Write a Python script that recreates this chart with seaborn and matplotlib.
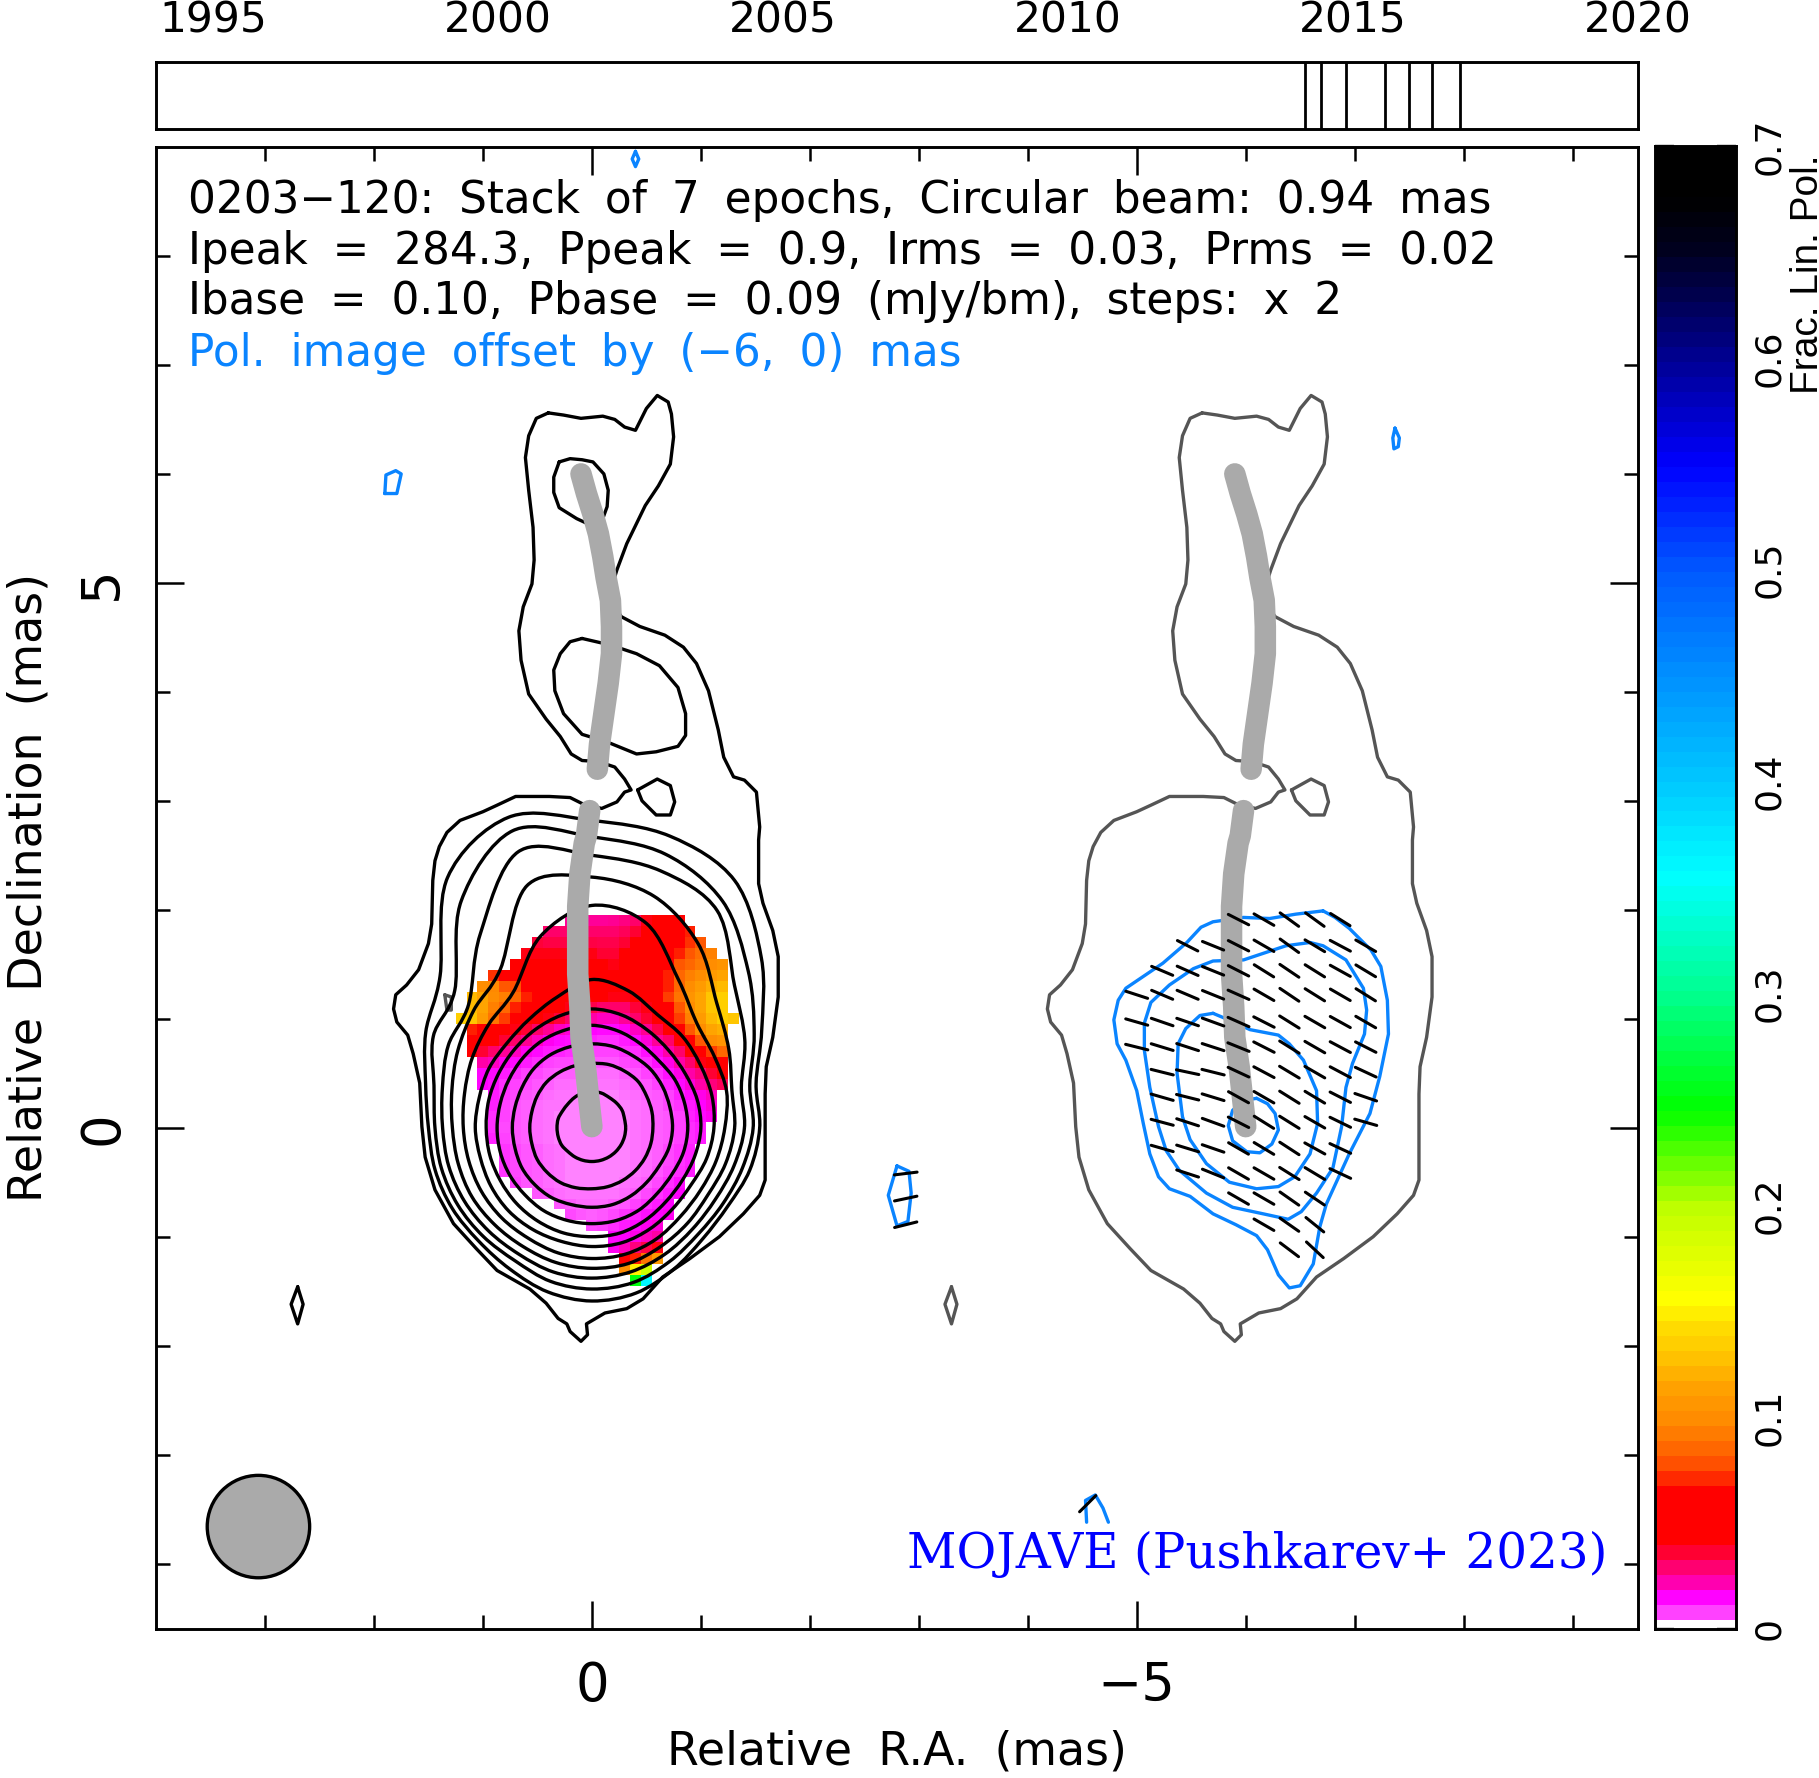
import numpy as np
import pandas as pd
import matplotlib
matplotlib.use('Agg')
import matplotlib.pyplot as plt
from matplotlib.colors import LinearSegmentedColormap
from matplotlib.patches import Circle, PathPatch
from matplotlib.path import Path
import seaborn as sns

W, H = 1819, 1778

# labels
TITLE_LINES = ['0203\u2212120: Stack of 7 epochs, Circular beam: 0.94 mas',
               'Ipeak = 284.3, Ppeak = 0.9, Irms = 0.03, Prms = 0.02',
               'Ibase = 0.10, Pbase = 0.09 (mJy/bm), steps: x 2',
               'Pol. image offset by (\u22126, 0) mas']
CREDIT = 'MOJAVE (Pushkarev+ 2023)'
YEAR_TICKS = [1995, 2000, 2005, 2010, 2015, 2020]
EPOCHS = [2014.16, 2014.44, 2014.88, 2015.56, 2015.98, 2016.39, 2016.88]
CBAR_TICKS = [0, 0.1, 0.2, 0.3, 0.4, 0.5, 0.6, 0.7]
POL_OFFSET = -6.0
BEAM_DIAMETER = 0.94
BEAM_CENTRE = (3.06, -3.66)

# outermost stokes I contour (mas)
OUTER_X = [0.40, 0.51, 0.58, 0.61, 0.58, 0.54, 0.53, 0.55, 0.63, 0.67, 0.65, 0.58, 0.42, 0.29, 0.19, 0.09, -0.06, -0.21, -0.30, -0.36,
           -0.30, -0.23, -0.09, 0.08, 0.20, 0.39, 0.70, 0.87, 1.00, 1.21, 1.33, 1.40, 1.44, 1.46, 1.47, 1.50, 1.59, 1.70, 1.80, 1.82,
           1.79, 1.69, 1.64, 1.58, 1.56, 1.53, 1.44, 1.27, 1.06, 0.87, 0.57, 0.42, 0.31, 0.23, 0.20, 0.10, 0.04, 0.05, -0.12, -0.32,
           -0.47, -0.65, -0.90, -1.17, -1.39, -1.54, -1.59, -1.59, -1.59, -1.60, -1.66, -1.71, -1.71, -1.66, -1.57, -1.53, -1.53, -1.54, -1.51,
           -1.40, -1.30, -1.21, -1.16, -1.07, -0.96, -0.84, -0.67, -0.44, -0.27, -0.21, -0.18, -0.23, -0.32, -0.49, -0.61, -0.72, -0.75, -0.73,
           -0.70, -0.60, -0.50, -0.40, -0.30, -0.21, -0.10, 0.10, 0.26, 0.40]
OUTER_Y = [6.56, 6.51, 6.35, 6.15, 5.85, 5.51, 5.21, 4.99, 4.78, 4.56, 4.29, 3.98, 3.75, 3.59, 3.43, 3.37, 3.36, 3.31, 3.20, 3.10,
           3.08, 2.99, 2.93, 2.97, 3.03, 3.04, 3.04, 2.96, 2.90, 2.82, 2.71, 2.58, 2.45, 2.27, 1.87, 1.69, 1.45, 1.31, 1.22, 1.09,
           0.97, 0.85, 0.68, 0.41, 0.01, -0.27, -0.57, -0.88, -1.11, -1.31, -1.48, -1.61, -1.75, -1.80, -1.87, -1.96, -1.90, -1.80, -1.70, -1.66,
           -1.57, -1.37, -1.20, -1.00, -0.79, -0.62, -0.48, -0.11, 0.31, 0.56, 0.83, 1.20, 1.57, 1.81, 2.06, 2.24, 2.64, 2.76, 3.08,
           3.19, 3.22, 3.40, 3.65, 4.01, 4.26, 4.41, 4.52, 4.60, 4.69, 4.78, 4.96, 5.12, 5.36, 5.71, 5.89, 6.09, 6.34, 6.55,
           6.66, 6.72, 6.60, 6.40, 6.43, 6.50, 6.53, 6.51, 6.54, 6.56]

# islands of the lowest contour
TOP_BLOB_X = [0.30, 0.20, 0.09, -0.01, -0.11, -0.15, -0.14, -0.10, -0.01, 0.14, 0.30, 0.35, 0.35, 0.30]
TOP_BLOB_Y = [6.11, 6.14, 6.13, 6.11, 6.00, 5.85, 5.70, 5.59, 5.52, 5.59, 5.69, 5.83, 5.97, 6.11]
MID_BLOB_X = [0.09, 0.20, 0.29, 0.35, 0.34, 0.26, 0.09, -0.14, -0.41, -0.59, -0.79, -0.86, -0.86, -0.79, -0.62, -0.41, -0.17, 0.09]
MID_BLOB_Y = [4.49, 4.46, 4.35, 4.20, 4.01, 3.80, 3.61, 3.54, 3.43, 3.45, 3.50, 3.60, 3.80, 4.04, 4.24, 4.35, 4.43, 4.49]
NECK_BLOB_X = [-0.42, -0.46, -0.59, -0.72, -0.76, -0.72, -0.60, -0.42]
NECK_BLOB_Y = [3.10, 3.00, 2.87, 2.87, 2.99, 3.14, 3.20, 3.10]
SIDE_BLOB_X = [2.70, 2.65, 2.70, 2.76, 2.70]
SIDE_BLOB_Y = [-1.46, -1.62, -1.80, -1.62, -1.46]
GREY_SPECK_X = [1.35, 1.29, 1.29, 1.33, 1.35]
GREY_SPECK_Y = [1.22, 1.20, 1.08, 1.08, 1.22]

# closed contours around the core: radius (mas) per azimuth, one row per level
AZIMUTHS = list(range(0, 360, 15))
LEVEL_RADII = [
    [1.54, 1.56, 1.80, 2.20, 2.62, 2.77, 2.82, 2.95, 2.65, 1.97, 1.76, 1.58, 1.50, 1.49, 1.48, 1.47, 1.50, 1.56, 1.59, 1.57, 1.50, 1.44, 1.44, 1.50],
    [1.48, 1.50, 1.72, 2.03, 2.40, 2.60, 2.67, 2.82, 2.40, 1.78, 1.68, 1.50, 1.44, 1.43, 1.42, 1.41, 1.41, 1.46, 1.48, 1.47, 1.42, 1.38, 1.39, 1.43],
    [1.40, 1.42, 1.62, 1.85, 2.30, 2.44, 2.50, 2.62, 2.05, 1.60, 1.52, 1.42, 1.37, 1.36, 1.35, 1.34, 1.34, 1.37, 1.38, 1.37, 1.34, 1.31, 1.31, 1.35],
    [1.31, 1.33, 1.45, 1.62, 1.95, 2.20, 2.30, 2.30, 1.68, 1.53, 1.42, 1.33, 1.28, 1.27, 1.27, 1.26, 1.26, 1.28, 1.29, 1.29, 1.26, 1.24, 1.23, 1.27],
    [1.22, 1.28, 1.30, 1.36, 1.58, 1.94, 2.04, 1.82, 1.44, 1.34, 1.27, 1.21, 1.18, 1.17, 1.17, 1.17, 1.17, 1.19, 1.20, 1.20, 1.18, 1.15, 1.15, 1.18],
    [1.12, 1.14, 1.15, 1.18, 1.20, 1.30, 1.36, 1.24, 1.15, 1.10, 1.09, 1.07, 1.07, 1.06, 1.07, 1.08, 1.08, 1.08, 1.09, 1.09, 1.07, 1.05, 1.05, 1.09],
    [1.00, 1.00, 0.99, 1.00, 1.03, 1.07, 1.09, 1.07, 1.04, 1.01, 0.99, 0.98, 0.97, 0.97, 0.97, 0.98, 0.99, 1.00, 1.00, 1.00, 0.98, 0.96, 0.96, 0.98],
    [0.88, 0.88, 0.88, 0.87, 0.89, 0.92, 0.94, 0.93, 0.92, 0.90, 0.88, 0.87, 0.87, 0.87, 0.87, 0.87, 0.88, 0.88, 0.88, 0.88, 0.87, 0.85, 0.85, 0.87],
    [0.74, 0.74, 0.75, 0.76, 0.76, 0.77, 0.77, 0.77, 0.77, 0.76, 0.74, 0.73, 0.73, 0.73, 0.74, 0.74, 0.74, 0.73, 0.73, 0.73, 0.72, 0.71, 0.71, 0.73],
    [0.56, 0.57, 0.58, 0.60, 0.60, 0.60, 0.59, 0.59, 0.59, 0.59, 0.58, 0.57, 0.57, 0.57, 0.58, 0.58, 0.58, 0.57, 0.56, 0.56, 0.56, 0.56, 0.56, 0.56],
    [0.31, 0.31, 0.32, 0.32, 0.32, 0.33, 0.33, 0.33, 0.32, 0.31, 0.31, 0.32, 0.32, 0.32, 0.32, 0.31, 0.31, 0.31, 0.31, 0.31, 0.31, 0.31, 0.31, 0.31],
]

# jet ridge line (mas)
RIDGE_TOP_X = [0.10, 0.05, -0.01, -0.06, -0.10, -0.13, -0.17, -0.18, -0.18, -0.15, -0.11, -0.07, -0.05]
RIDGE_TOP_Y = [6.00, 5.82, 5.63, 5.45, 5.24, 5.05, 4.84, 4.60, 4.35, 4.08, 3.80, 3.52, 3.29]
RIDGE_LOW_X = [0.02, 0.05, 0.07, 0.11, 0.13, 0.13, 0.13, 0.11, 0.10, 0.06, 0.03, 0.00]
RIDGE_LOW_Y = [2.91, 2.68, 2.61, 2.33, 2.03, 1.72, 1.41, 1.11, 0.83, 0.56, 0.28, 0.01]

# polarization contours, drawn where the offset image sits (mas)
POL_OUTER_X = [-6.71, -6.46, -6.22, -5.98, -5.70, -5.59, -5.46, -5.24, -4.90, -4.83, -4.79, -4.82, -4.90, -5.00, -5.06, -5.12, -5.20, -5.30, -5.49, -5.70,
               -5.91, -6.10, -6.20, -6.30, -6.40, -6.50, -6.62, -6.68, -6.74, -6.95, -7.14, -7.23, -7.31, -7.30, -7.24, -7.15, -6.95, -6.82, -6.71]
POL_OUTER_Y = [1.99, 1.96, 1.92, 1.93, 1.89, 1.84, 1.70, 1.51, 1.28, 1.17, 0.99, 0.77, 0.62, 0.34, 0.04, -0.24, -0.45, -0.56, -0.63, -0.79,
               -0.89, -0.99, -1.12, -1.35, -1.47, -1.45, -1.25, -0.91, -0.70, -0.24, 0.13, 0.47, 0.86, 1.17, 1.48, 1.63, 1.83, 1.93, 1.99]
POL_SECOND_X = [-6.59, -6.37, -6.16, -5.98, -5.70, -5.52, -5.30, -5.13, -5.07, -5.07, -5.12, -5.20, -5.27, -5.39, -5.64, -5.88, -6.16, -6.39, -6.51, -6.65,
                -6.80, -6.88, -6.92, -6.98, -7.09, -7.11, -7.08, -6.92, -6.71, -6.59]
POL_SECOND_Y = [1.70, 1.67, 1.60, 1.54, 1.53, 1.46, 1.31, 1.15, 0.96, 0.71, 0.37, 0.01, -0.21, -0.39, -0.60, -0.73, -0.79, -0.84, -0.77, -0.60,
                -0.37, 0.01, 0.37, 0.59, 0.86, 1.08, 1.28, 1.54, 1.67, 1.70]
POL_THIRD_X = [-5.70, -5.58, -5.45, -5.38, -5.37, -5.42, -5.49, -5.64, -5.85, -6.10, -6.30, -6.45, -6.59, -6.66, -6.65, -6.53, -6.40, -6.30, -6.04, -5.82, -5.70]
POL_THIRD_Y = [1.05, 1.03, 0.91, 0.77, 0.50, 0.10, -0.11, -0.33, -0.50, -0.56, -0.54, -0.45, -0.24, 0.04, 0.34, 0.62, 0.77, 0.85, 0.90, 1.00, 1.05]
POL_CORE_X = [-6.10, -5.98, -5.88, -5.84, -5.88, -6.01, -6.13, -6.24, -6.30, -6.27, -6.20, -6.10]
POL_CORE_Y = [0.27, 0.25, 0.16, 0.02, -0.12, -0.22, -0.23, -0.15, -0.02, 0.13, 0.22, 0.27]
POL_A_X = [1.90, 1.79, 1.75, 1.80, 1.89, 1.90]
POL_A_Y = [5.82, 5.82, 6.00, 6.03, 5.99, 5.82]
POL_B_X = [-0.40, -0.43, -0.40, -0.37, -0.40]
POL_B_Y = [8.96, 8.89, 8.82, 8.89, 8.96]
POL_C_X = [-7.37, -7.41, -7.40, -7.36, -7.35, -7.37]
POL_C_Y = [6.42, 6.33, 6.25, 6.23, 6.33, 6.42]
POL_D_X = [-2.80, -2.91, -2.93, -2.90, -2.80, -2.72, -2.80]
POL_D_Y = [-0.35, -0.40, -0.60, -0.86, -0.90, -0.62, -0.35]
POL_E_X = [-4.54, -4.53, -4.62, -4.69, -4.74]
POL_E_Y = [-3.62, -3.42, -3.37, -3.49, -3.62]

# EVPA sticks: one row per declination, position angle in degrees
STICK_Y = [1.91, 1.67, 1.44, 1.22, 0.97, 0.74, 0.51, 0.28, 0.05, -0.19, -0.42, -0.65, -0.89, -1.12]
STICK_FIRST = [4, 2, 1, 0, 0, 0, 1, 1, 1, 1, 2, 4, 5, 6]
STICK_PA = [
    [63, 60, 54, 54, 58],
    [63, 68, 63, 60, 54, 59, 62, 60],
    [67, 66, 68, 63, 58, 56, 58, 61, 59],
    [72, 67, 67, 68, 66, 60, 56, 58, 60, 58],
    [74, 71, 71, 70, 66, 63, 58, 60, 61, 60],
    [76, 73, 72, 72, 68, 63, 58, 60, 62, 63],
    [76, 78, 76, 65, 62, 59, 60, 62, 65],
    [74, 76, 73, 61, 60, 58, 59, 63, 71],
    [75, 72, 70, 63, 58, 58, 60, 64, 74],
    [74, 73, 71, 60, 59, 57, 61, 65],
    [72, 68, 60, 60, 58, 59, 65],
    [60, 60, 55, 56],
    [60, 55, 51],
    [53, 47],
]
LONE_STICK_X = [-2.88, -2.88, -2.88, -4.55]
LONE_STICK_Y = [-0.42, -0.65, -0.89, -3.45]
LONE_STICK_PA = [97, 102, 104, 135]

# fractional polarization per 0.1 mas cell, in thousandths
FPOL_FIRST = [10, 8, 7, 6, 5, 3, 2, 1, 1, 0, 1, 1, 1, 2, 2, 2, 3, 3, 3, 3, 3, 4, 4, 4, 5, 7, 9, 10, 12, 14, 14, 15, 15, 16]
FPOL_ROWS = [
    [24, 24, 24, 24, 25, 27, 30, 40, 50, 50, 50],
    [30, 30, 30, 30, 30, 30, 30, 32, 36, 45, 50, 50, 60, 70],
    [35, 34, 34, 34, 34, 34, 33, 33, 36, 45, 50, 50, 60, 65, 73, 80],
    [40, 40, 40, 40, 40, 40, 40, 36, 36, 45, 50, 50, 50, 65, 70, 80, 88, 95],
    [50, 50, 50, 50, 50, 50, 50, 50, 45, 40, 50, 50, 50, 55, 66, 80, 85, 92, 100, 105],
    [73, 60, 50, 50, 50, 50, 50, 50, 50, 50, 48, 45, 50, 50, 50, 60, 70, 85, 95, 100, 110, 115],
    [100, 98, 80, 78, 60, 50, 50, 50, 50, 50, 48, 45, 45, 48, 50, 55, 65, 70, 85, 100, 110, 120, 125],
    [125, 115, 100, 95, 85, 70, 60, 50, 50, 50, 50, 50, 50, 40, 40, 45, 50, 65, 75, 90, 105, 115, 130, 135],
    [125, 115, 95, 85, 70, 55, 50, 50, 45, 40, 40, 33, 30, 30, 30, 35, 40, 50, 65, 80, 100, 115, 130, 135],
    [135, 130, 110, 90, 75, 50, 50, 50, 40, 35, 30, 25, 22, 20, 20, 24, 30, 36, 45, 55, 75, 95, 110, 125, 135, 130],
    [70, 60, 60, 50, 40, 36, 30, 25, 20, 18, 16, 15, 14, 14, 16, 20, 25, 33, 45, 60, 80, 100, 115, 120],
    [50, 50, 45, 36, 30, 25, 20, 16, 14, 13, 12, 11, 10, 10, 12, 14, 18, 24, 30, 45, 60, 80, 100, 105],
    [50, 36, 30, 24, 20, 16, 14, 12, 11, 10, 9, 8, 8, 8, 9, 10, 13, 17, 22, 30, 45, 60, 75, 85],
    [22, 20, 16, 14, 12, 10, 8, 7, 7, 6, 6, 6, 6, 7, 8, 10, 13, 17, 22, 30, 40, 50, 60],
    [15, 14, 12, 10, 8, 7, 6, 5, 5, 4, 4, 4, 4, 5, 6, 8, 10, 13, 17, 22, 28, 36, 45],
    [15, 13, 10, 8, 7, 6, 5, 4, 4, 3, 3, 3, 3, 4, 5, 6, 8, 11, 14, 18, 22, 28, 32],
    [12, 9, 7, 6, 5, 4, 3, 3, 2, 2, 2, 2, 3, 4, 5, 6, 8, 11, 14, 17, 20],
    [11, 8, 6, 5, 4, 3, 3, 2, 2, 2, 2, 2, 2, 3, 4, 5, 7, 9, 12, 15, 18],
    [10, 8, 6, 5, 4, 3, 2, 2, 2, 2, 2, 2, 2, 3, 4, 5, 6, 8, 11, 14, 16],
    [10, 7, 6, 5, 4, 3, 2, 2, 2, 2, 2, 2, 2, 3, 4, 5, 6, 8, 10, 12],
    [11, 8, 6, 5, 4, 3, 2, 2, 2, 2, 2, 2, 2, 3, 4, 5, 6, 8, 10, 12],
    [9, 7, 6, 5, 4, 3, 2, 2, 2, 2, 2, 2, 3, 4, 5, 7, 9, 11],
    [9, 7, 6, 5, 4, 3, 2, 2, 2, 2, 2, 2, 3, 4, 5, 7, 9, 11],
    [9, 7, 6, 5, 4, 3, 2, 2, 2, 2, 2, 2, 3, 4, 6, 8, 10, 12],
    [8, 6, 5, 4, 3, 2, 2, 2, 2, 2, 3, 4, 5, 7, 10, 13],
    [6, 5, 4, 3, 3, 3, 3, 3, 4, 5, 7, 9, 12, 15],
    [6, 5, 4, 4, 4, 5, 6, 8, 10, 12, 15],
    [7, 6, 5, 6, 7, 9, 11, 13, 15, 16],
    [7, 8, 10, 12, 14, 16, 18],
    [14, 15, 17, 20, 23],
    [16, 20, 28, 34, 40],
    [60, 70, 90, 110],
    [100, 150, 190],
    [250, 360],
]

# colour stops of the polarization scale
FPOL_STOPS = [0, 0.0076, 0.0146, 0.0217, 0.0288, 0.0358, 0.042, 0.066, 0.0709, 0.078, 0.085, 0.099, 0.113, 0.127, 0.142, 0.156,
              0.198, 0.245, 0.30, 0.355, 0.40, 0.45, 0.50, 0.549, 0.60, 0.65, 0.675, 0.70]
FPOL_COLOURS = ['#ff90ff', '#ff40ff', '#ff00ff', '#ff00aa', '#ff0070', '#ff0030', '#ff0000', '#ff0000', '#ff2800', '#ff5000', '#ff6800', '#ff8c00',
                '#ffa000', '#ffc000', '#ffdc00', '#ffff00', '#c0ff00', '#00ff00', '#00ff90', '#00ffff', '#00c8ff', '#0090ff', '#0058ff', '#0000ff',
                '#000090', '#000020', '#000000', '#000000']

BLACK = '#000000'
GREY = '#555555'
BLUE = '#0a84ff'
RIDGE = '#aaaaaa'
LINE_W = 2.4
WIDE_SPACE = ' \u2005'

sns.set_theme(style='white', rc={'axes.linewidth': 2.1, 'axes.edgecolor': 'black', 'text.color': 'black',
                                 'xtick.color': 'black', 'ytick.color': 'black', 'xtick.labelcolor': 'black',
                                 'ytick.labelcolor': 'black'})
plt.rcParams['font.family'] = ['DejaVu Sans']


def px_rect(left, top, right, bottom):
    return [left / W, 1 - bottom / H, (right - left) / W, (bottom - top) / H]


def trace(ax, xs, ys, colour=BLACK, lw=LINE_W, shift=0.0, z=3):
    xs = np.asarray(xs, dtype=float) + shift
    sns.lineplot(x=xs, y=ys, ax=ax, color=colour, linewidth=lw, sort=False, estimator=None,
                 legend=False, zorder=z, solid_joinstyle='round')


def smooth_ring(ax, xs, ys, colour=BLACK, lw=LINE_W, z=3):
    # closed curve through the read vertices (Catmull-Rom as bezier segments)
    pts = np.column_stack([xs, ys])
    n_pts = len(pts)
    verts = [pts[0]]
    codes = [Path.MOVETO]
    for i in range(n_pts):
        p0, p1, p2, p3 = pts[i - 1], pts[i], pts[(i + 1) % n_pts], pts[(i + 2) % n_pts]
        verts += [p1 + (p2 - p0) / 6, p2 - (p3 - p1) / 6, p2]
        codes += [Path.CURVE4] * 3
    ax.add_patch(PathPatch(Path(verts, codes), fill=False, edgecolor=colour, linewidth=lw, zorder=z))


fig = plt.figure(figsize=(W / 100, H / 100), dpi=100, facecolor='white')
ax = fig.add_axes(px_rect(156, 147, 1638, 1629))
strip = fig.add_axes(px_rect(156, 62, 1638, 129))
cax = fig.add_axes(px_rect(1655, 146, 1736, 1629))

# fractional polarization image
fpol = np.full((len(FPOL_ROWS), 26), np.nan)
for i, (first, row) in enumerate(zip(FPOL_FIRST, FPOL_ROWS)):
    fpol[i, first:first + len(row)] = np.array(row) / 1000.0
cmap = LinearSegmentedColormap.from_list('fpol', [(s / 0.7, c) for s, c in zip(FPOL_STOPS, FPOL_COLOURS)], N=1024)
x_edges = 1.25 - 0.1 * np.arange(27)
y_edges = 1.95 - 0.1 * np.arange(len(FPOL_ROWS) + 1)
ax.pcolormesh(x_edges, y_edges, np.ma.masked_invalid(fpol), cmap=cmap, vmin=0, vmax=0.7, zorder=1, linewidth=0)

# total intensity contours
trace(ax, OUTER_X, OUTER_Y)
trace(ax, TOP_BLOB_X, TOP_BLOB_Y)
trace(ax, MID_BLOB_X, MID_BLOB_Y)
trace(ax, NECK_BLOB_X, NECK_BLOB_Y)
trace(ax, SIDE_BLOB_X, SIDE_BLOB_Y)
trace(ax, GREY_SPECK_X, GREY_SPECK_Y, colour=GREY)
az = np.radians(AZIMUTHS)
for radii in LEVEL_RADII:
    r = np.array(radii)
    smooth_ring(ax, -r * np.cos(az), r * np.sin(az))

# lowest level repeated under the polarization contours
trace(ax, OUTER_X, OUTER_Y, colour=GREY, shift=POL_OFFSET)
trace(ax, NECK_BLOB_X, NECK_BLOB_Y, colour=GREY, shift=POL_OFFSET)
trace(ax, SIDE_BLOB_X, SIDE_BLOB_Y, colour=GREY, shift=POL_OFFSET)

for px, py in [(POL_OUTER_X, POL_OUTER_Y), (POL_SECOND_X, POL_SECOND_Y), (POL_THIRD_X, POL_THIRD_Y),
               (POL_CORE_X, POL_CORE_Y), (POL_A_X, POL_A_Y), (POL_B_X, POL_B_Y), (POL_C_X, POL_C_Y),
               (POL_D_X, POL_D_Y), (POL_E_X, POL_E_Y)]:
    trace(ax, px, py, colour=BLUE)

# ridge lines sit above the contours
for shift in (0.0, POL_OFFSET):
    for rx, ry in [(RIDGE_TOP_X, RIDGE_TOP_Y), (RIDGE_LOW_X, RIDGE_LOW_Y)]:
        sns.lineplot(x=np.array(rx) + shift, y=ry, ax=ax, color=RIDGE, linewidth=15.5, sort=False,
                     estimator=None, legend=False, zorder=4, solid_capstyle='round', solid_joinstyle='round')

# EVPA sticks
half = 0.105
sx, sy, sid = [], [], []
n = 0
centres = []
for y0, first, pas in zip(STICK_Y, STICK_FIRST, STICK_PA):
    for k, pa in enumerate(pas):
        centres.append((-5.0 - 0.2335 * (first + k), y0, pa))
for x0, y0, pa in zip(LONE_STICK_X, LONE_STICK_Y, LONE_STICK_PA):
    centres.append((x0, y0, pa))
for x0, y0, pa in centres:
    dx, dy = half * np.sin(np.radians(pa)), half * np.cos(np.radians(pa))
    sx += [x0 + dx, x0 - dx]
    sy += [y0 + dy, y0 - dy]
    sid += [n, n]
    n += 1
sticks = pd.DataFrame({'x': sx, 'y': sy, 'stick': sid})
sns.lineplot(data=sticks, x='x', y='y', units='stick', estimator=None, sort=False, color=BLACK,
             linewidth=2.2, legend=False, ax=ax, zorder=5)

ax.add_patch(Circle(BEAM_CENTRE, BEAM_DIAMETER / 2, facecolor=RIDGE, edgecolor='black', linewidth=LINE_W, zorder=3))

ax.set_xlim(4.0, -9.6)
ax.set_ylim(-4.6, 9.0)
ax.set_xlabel('')
ax.set_ylabel('')
ax.set_xticks([0, -5])
ax.set_xticks(list(range(-9, 4)), minor=True)
ax.set_yticks([0, 5])
ax.set_yticks(list(range(-4, 9)), minor=True)
ax.set_xticklabels(['0', '\u22125'], fontsize=38)
ax.set_yticklabels(['0', '5'], fontsize=38, rotation=90, va='center')
ax.tick_params(which='major', direction='in', length=20, width=1.8, top=True, right=True, bottom=True, left=True, pad=22)
ax.tick_params(which='minor', direction='in', length=10, width=1.8, top=True, right=True, bottom=True, left=True)
ax.tick_params(axis='y', which='major', pad=20)

# epoch strip
sns.rugplot(x=EPOCHS, height=1, ax=strip, color=BLACK, linewidth=2.0, clip_on=True)
strip.set_xlim(1994, 2020)
strip.set_ylim(0, 1)
strip.set_yticks([])
strip.set_xticks(YEAR_TICKS)
strip.set_xticklabels([str(y) for y in YEAR_TICKS], fontsize=30.5)
strip.tick_params(axis='x', length=0, bottom=False, top=False, labelbottom=False, labeltop=True, pad=14.5)

# colour bar, one band per scale step
band_edges = np.append(np.arange(0.0041, 0.7, 0.00707), 0.7)
band_mid = 0.5 * (band_edges[:-1] + band_edges[1:])
cax.pcolormesh([0, 1], band_edges, band_mid[:, None], cmap=cmap, vmin=0, vmax=0.7, linewidth=0)
cax.set_xlim(0, 1)
cax.set_ylim(0, 0.7)
cax.set_xticks([])
cax.set_yticks(CBAR_TICKS)
cax.set_yticks(np.arange(0, 0.701, 0.02), minor=True)
cax.set_yticklabels(['0', '0.1', '0.2', '0.3', '0.4', '0.5', '0.6', '0.7'], rotation=90, va='center', fontsize=26)
cax.tick_params(axis='y', which='major', direction='in', length=13.5, width=1.7, left=True, right=True,
                labelleft=False, labelright=True, pad=11.5)
cax.tick_params(axis='y', which='minor', direction='in', length=7, width=1.7, left=True, right=True)

# text
for line, base, colour in zip(TITLE_LINES, [213, 264, 314, 366], [BLACK, BLACK, BLACK, BLUE]):
    fig.text(188 / W, 1 - base / H, line.replace(' ', WIDE_SPACE), fontsize=31.5, color=colour, va='baseline', ha='left')
fig.text(1607 / W, 1 - 1568 / H, CREDIT, fontsize=34.8, color='#0000ff', family='DejaVu Serif', va='baseline', ha='right')
fig.text(897 / W, 1 - 1752 / H, 'Relative R.A. (mas)'.replace(' ', WIDE_SPACE), fontsize=33, va='center', ha='center')
fig.text(29 / W, 1 - 888 / H, 'Relative Declination (mas)'.replace(' ', WIDE_SPACE), fontsize=33, va='center', ha='center', rotation=90)
fig.text(1808 / W, 1 - 274 / H, 'Frac. Lin. Pol.', fontsize=28, va='center', ha='center', rotation=90,
         family='Liberation Sans')

fig.savefig('out.png', dpi=100)
